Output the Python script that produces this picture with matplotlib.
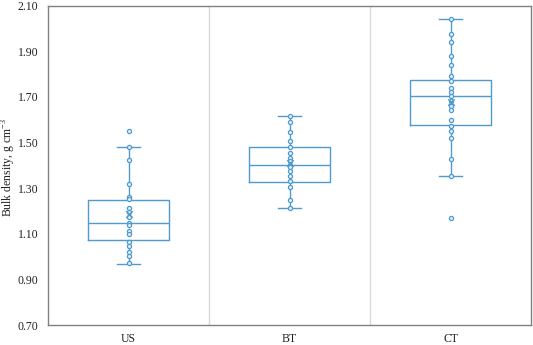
import numpy as np
import matplotlib
matplotlib.use("Agg")
import matplotlib.pyplot as plt

# data
categories = ["US", "BT", "CT"]

us_points = [1.55, 1.48, 1.425, 1.316, 1.262, 1.253, 1.214, 1.196, 1.174, 1.148,
             1.137, 1.114, 1.099, 1.064, 1.048, 1.018, 1.001, 0.97]
bt_points = [1.615, 1.591, 1.547, 1.506, 1.481, 1.454, 1.43, 1.419, 1.401, 1.394,
             1.375, 1.353, 1.331, 1.306, 1.249, 1.212]
ct_points = [2.043, 1.977, 1.939, 1.877, 1.839, 1.792, 1.767, 1.739, 1.72, 1.703,
             1.682, 1.661, 1.642, 1.597, 1.572, 1.551, 1.518, 1.427, 1.353, 1.171]

q1 = [1.074, 1.327, 1.576]
medians = [1.148, 1.401, 1.703]
q3 = [1.247, 1.481, 1.774]
whisker_low = [0.969, 1.212, 1.353]
whisker_high = [1.48, 1.615, 2.043]
means = [1.187, 1.412, 1.676]

yticks = [0.70, 0.90, 1.10, 1.30, 1.50, 1.70, 1.90, 2.10]

blue = "#4f9bcf"
plt.rcParams["font.family"] = ["Liberation Serif", "DejaVu Serif"]
plt.rcParams["mathtext.fontset"] = "custom"
plt.rcParams["mathtext.rm"] = "Liberation Serif"

fig = plt.figure(figsize=(5.33, 3.45), dpi=100)
ax = fig.add_axes([48 / 533, 20 / 345, 483 / 533, 319.5 / 345])

positions = [1, 2, 3]
stats = []
for i in range(3):
    stats.append({"med": medians[i], "q1": q1[i], "q3": q3[i],
                  "whislo": whisker_low[i], "whishi": whisker_high[i],
                  "mean": means[i], "fliers": []})

ax.bxp(stats, positions=positions, widths=0.505, showmeans=False,
       showfliers=False, capwidths=0.14,
       boxprops=dict(color=blue, linewidth=1.0),
       medianprops=dict(color=blue, linewidth=1.0),
       whiskerprops=dict(color=blue, linewidth=1.0),
       capprops=dict(color=blue, linewidth=1.0))

for pos, pts in zip(positions, [us_points, bt_points, ct_points]):
    ax.scatter([pos] * len(pts), pts, s=9, facecolor="#e8f1f8",
               edgecolor=blue, linewidth=0.9, zorder=3)

ax.scatter(positions, means, marker="x", s=22, color=blue, linewidth=1.0, zorder=4)

# category separators
for x in [1.5, 2.5]:
    ax.axvline(x, color="#d9d9d9", linewidth=1.0, zorder=0)

ax.set_xlim(0.5, 3.5)
ax.set_ylim(0.70, 2.10)
ax.set_yticks(yticks)
ax.set_yticklabels([f"{t:.2f}" for t in yticks])
ax.set_xticks(positions)
ax.set_xticklabels(categories)
ax.tick_params(length=0, labelsize=8.5, colors="#222222")
ax.tick_params(axis="y", pad=7)
ax.tick_params(axis="x", pad=6)

# y label placed by hand, centred on x ~ 9 px
fig.text(9 / 533, (345 - 167) / 345, r"Bulk density, g cm$^{\mathrm{-3}}$",
         rotation=90, ha="center", va="center", fontsize=8.5, color="#222222")

for s in ax.spines.values():
    s.set_color("#808080")
    s.set_linewidth(1.0)

fig.savefig("out.png", dpi=100)
